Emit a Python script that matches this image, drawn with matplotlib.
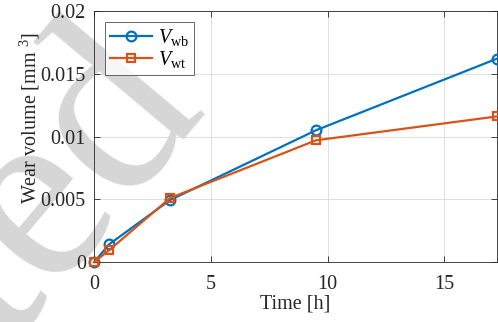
import matplotlib
matplotlib.use("Agg")
import matplotlib.pyplot as plt

# data
time_h = [0, 0.65, 3.25, 9.5, 17.25]
v_wb = [0, 0.00143, 0.00494, 0.0105, 0.0162]
v_wt = [0, 0.00096, 0.0051, 0.0097, 0.0116]
xticks = [0, 5, 10, 15]
yticks = [0, 0.005, 0.01, 0.015, 0.02]
ytick_labels = ["0", "0.005", "0.01", "0.015", "0.02"]

plt.rcParams['font.family'] = ['Liberation Serif', 'DejaVu Serif']
plt.rcParams['mathtext.fontset'] = 'custom'
plt.rcParams['mathtext.rm'] = 'Liberation Serif'
plt.rcParams['mathtext.it'] = 'Liberation Serif:italic'

blue = (0, 0.447, 0.741)
orange = (0.85, 0.325, 0.098)
axcol = (0.15, 0.15, 0.15)

fig = plt.figure(figsize=(4.98, 3.22), dpi=100)
ax = fig.add_axes([0.189, 0.186, 0.809, 0.780])

ax.plot(time_h, v_wb, '-o', color=blue, lw=1.6, ms=7, mfc='none', mew=1.6,
        label=r'$V_{\mathrm{wb}}$', zorder=3, clip_on=False)
ax.plot(time_h, v_wt, '-s', color=orange, lw=1.6, ms=6, mfc='none', mew=1.6,
        label=r'$V_{\mathrm{wt}}$', zorder=3, clip_on=False)

ax.set_xlim(0, 17.25)
ax.set_ylim(0, 0.02)
ax.set_xticks(xticks)
ax.set_yticks(yticks)
ax.set_yticklabels(ytick_labels)
ax.tick_params(direction='in', top=True, right=True, labelsize=14.5,
               colors=axcol, length=4, width=0.6, pad=6)
ax.tick_params(axis='x', pad=9)
ax.grid(True, color=(0.85, 0.85, 0.85), lw=0.6)
for s in ax.spines.values():
    s.set_color(axcol)
    s.set_linewidth(0.6)

ax.set_xlabel('Time [h]', fontsize=14.5, color=axcol, labelpad=1)
ax.set_ylabel(r'Wear volume [mm $^{3}$]', fontsize=14.5, color=axcol)
ax.yaxis.set_label_coords(-0.13, 0.575)

leg = ax.legend(loc='upper left', fontsize=14.5, frameon=True, fancybox=False,
                edgecolor=axcol, borderpad=0.25, handlelength=2.1,
                handletextpad=0.3, labelspacing=0.05, borderaxespad=0,
                bbox_to_anchor=(0.027, 0.956))
leg.get_frame().set_linewidth(0.6)
leg.set_zorder(5)

# grey watermark behind the lines
ax.text(0.28, 0.61, 'Accepted', transform=ax.transAxes, fontsize=185,
        color=(0.84, 0.84, 0.84), rotation=50, rotation_mode='anchor',
        ha='right', va='baseline', clip_on=False, zorder=0.5)

fig.savefig('out.png', dpi=100)
